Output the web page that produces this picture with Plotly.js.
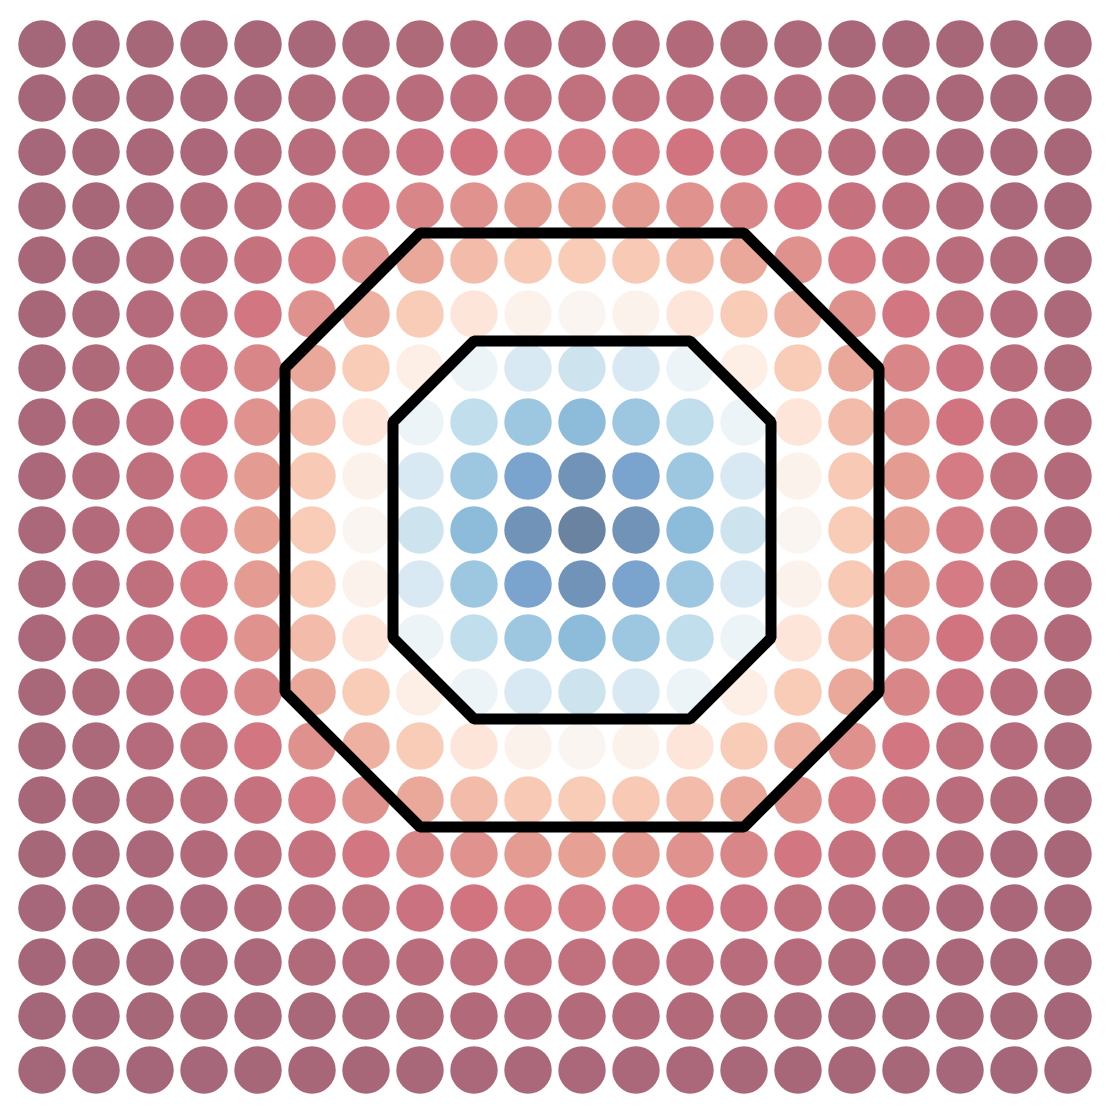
<!DOCTYPE html>
<html>
<head>
<meta charset="utf-8">
<script src="https://cdn.plot.ly/plotly-3.0.1.min.js"></script>
<style>html,body{margin:0;padding:0;background:#fff;}#chart{width:1110px;height:1108px;}</style>
</head>
<body>
<div id="chart"></div>
<script>
// grid coordinates
const xs = [-10,-9,-8,-7,-6,-5,-4,-3,-2,-1,0,1,2,3,4,5,6,7,8,9];
const ys = [-10,-9,-8,-7,-6,-5,-4,-3,-2,-1,0,1,2,3,4,5,6,7,8,9];

const zRows = [
  [0.000,0.001,0.002,0.003,0.005,0.007,0.009,0.011,0.013,0.015,0.016,0.015,0.013,0.011,0.009,0.007,0.005,0.003,0.002,0.001],
  [0.001,0.002,0.004,0.006,0.009,0.012,0.019,0.025,0.03,0.034,0.035,0.034,0.03,0.025,0.019,0.012,0.009,0.006,0.004,0.002],
  [0.002,0.004,0.006,0.010,0.016,0.026,0.037,0.048,0.057,0.063,0.065,0.063,0.057,0.048,0.037,0.026,0.016,0.010,0.006,0.004],
  [0.003,0.006,0.010,0.018,0.03,0.046,0.063,0.085,0.10,0.115,0.12,0.115,0.10,0.085,0.063,0.046,0.03,0.018,0.010,0.006],
  [0.005,0.009,0.016,0.03,0.05,0.075,0.105,0.14,0.17,0.19,0.20,0.19,0.17,0.14,0.105,0.075,0.05,0.03,0.016,0.009],
  [0.007,0.012,0.026,0.046,0.075,0.115,0.165,0.22,0.27,0.30,0.31,0.30,0.27,0.22,0.165,0.115,0.075,0.046,0.026,0.012],
  [0.009,0.019,0.037,0.063,0.105,0.165,0.24,0.31,0.39,0.45,0.47,0.45,0.39,0.31,0.24,0.165,0.105,0.063,0.037,0.019],
  [0.011,0.025,0.048,0.085,0.14,0.22,0.31,0.43,0.56,0.63,0.66,0.63,0.56,0.43,0.31,0.22,0.14,0.085,0.048,0.025],
  [0.013,0.03,0.057,0.10,0.17,0.27,0.39,0.56,0.69,0.77,0.81,0.77,0.69,0.56,0.39,0.27,0.17,0.10,0.057,0.03],
  [0.015,0.034,0.063,0.115,0.19,0.30,0.45,0.63,0.77,0.90,0.95,0.90,0.77,0.63,0.45,0.30,0.19,0.115,0.063,0.034],
  [0.016,0.035,0.065,0.12,0.20,0.31,0.47,0.66,0.81,0.95,1.00,0.95,0.81,0.66,0.47,0.31,0.20,0.12,0.065,0.035],
  [0.015,0.034,0.063,0.115,0.19,0.30,0.45,0.63,0.77,0.90,0.95,0.90,0.77,0.63,0.45,0.30,0.19,0.115,0.063,0.034],
  [0.013,0.03,0.057,0.10,0.17,0.27,0.39,0.56,0.69,0.77,0.81,0.77,0.69,0.56,0.39,0.27,0.17,0.10,0.057,0.03],
  [0.011,0.025,0.048,0.085,0.14,0.22,0.31,0.43,0.56,0.63,0.66,0.63,0.56,0.43,0.31,0.22,0.14,0.085,0.048,0.025],
  [0.009,0.019,0.037,0.063,0.105,0.165,0.24,0.31,0.39,0.45,0.47,0.45,0.39,0.31,0.24,0.165,0.105,0.063,0.037,0.019],
  [0.007,0.012,0.026,0.046,0.075,0.115,0.165,0.22,0.27,0.30,0.31,0.30,0.27,0.22,0.165,0.115,0.075,0.046,0.026,0.012],
  [0.005,0.009,0.016,0.03,0.05,0.075,0.105,0.14,0.17,0.19,0.20,0.19,0.17,0.14,0.105,0.075,0.05,0.03,0.016,0.009],
  [0.003,0.006,0.010,0.018,0.03,0.046,0.063,0.085,0.10,0.115,0.12,0.115,0.10,0.085,0.063,0.046,0.03,0.018,0.010,0.006],
  [0.002,0.004,0.006,0.010,0.016,0.026,0.037,0.048,0.057,0.063,0.065,0.063,0.057,0.048,0.037,0.026,0.016,0.010,0.006,0.004],
  [0.001,0.002,0.004,0.006,0.009,0.012,0.019,0.025,0.03,0.034,0.035,0.034,0.03,0.025,0.019,0.012,0.009,0.006,0.004,0.002]
];

// contour thresholds (inner and outer boundary)
const contourLevels = [0.5, 0.21];

// matplotlib RdBu colour stops
const rdbu = [
  [0.0,'rgb(103,0,31)'],[0.1,'rgb(178,24,43)'],[0.2,'rgb(214,96,77)'],
  [0.3,'rgb(244,165,130)'],[0.4,'rgb(253,219,199)'],[0.5,'rgb(247,247,247)'],
  [0.6,'rgb(209,229,240)'],[0.7,'rgb(146,197,222)'],[0.8,'rgb(67,147,195)'],
  [0.9,'rgb(33,102,172)'],[1.0,'rgb(5,48,97)']
];

// flatten for scatter
const px = [], py = [], pc = [];
ys.forEach((y, j) => xs.forEach((x, i) => { px.push(x); py.push(y); pc.push(zRows[j][i]); }));

// zone matrix for the contour lines
const zone = zRows.map(r => r.map(v => (v >= contourLevels[0] ? 1 : 0) + (v >= contourLevels[1] ? 1 : 0)));

const traces = [
  {
    type: 'scatter', mode: 'markers', x: px, y: py, hoverinfo: 'skip',
    marker: { size: 47.5, color: pc, colorscale: rdbu, cmin: 0, cmax: 1, opacity: 0.6, line: { width: 0 }, showscale: false }
  },
  {
    type: 'contour', x: xs, y: ys, z: zone, showscale: false, hoverinfo: 'skip',
    xaxis: 'x2', yaxis: 'y2',
    contours: { start: 0.5, end: 1.5, size: 1, coloring: 'none' },
    line: { color: 'black', width: 11, smoothing: 0 }
  }
];

const xr = [-10.778, 9.778], yr = [-10.704, 9.815];
const layout = {
  width: 1110, height: 1108,
  margin: { l: 0, r: 0, t: 0, b: 0, pad: 0 },
  paper_bgcolor: 'white', plot_bgcolor: 'white',
  showlegend: false,
  xaxis: { range: xr, visible: false, showgrid: false, zeroline: false, fixedrange: true },
  yaxis: { range: yr, visible: false, showgrid: false, zeroline: false, fixedrange: true },
  xaxis2: { range: xr, visible: false, showgrid: false, zeroline: false, fixedrange: true, overlaying: 'x' },
  yaxis2: { range: yr, visible: false, showgrid: false, zeroline: false, fixedrange: true, overlaying: 'y' }
};

Plotly.newPlot('chart', traces, layout, { displayModeBar: false, staticPlot: true });
</script>
</body>
</html>
